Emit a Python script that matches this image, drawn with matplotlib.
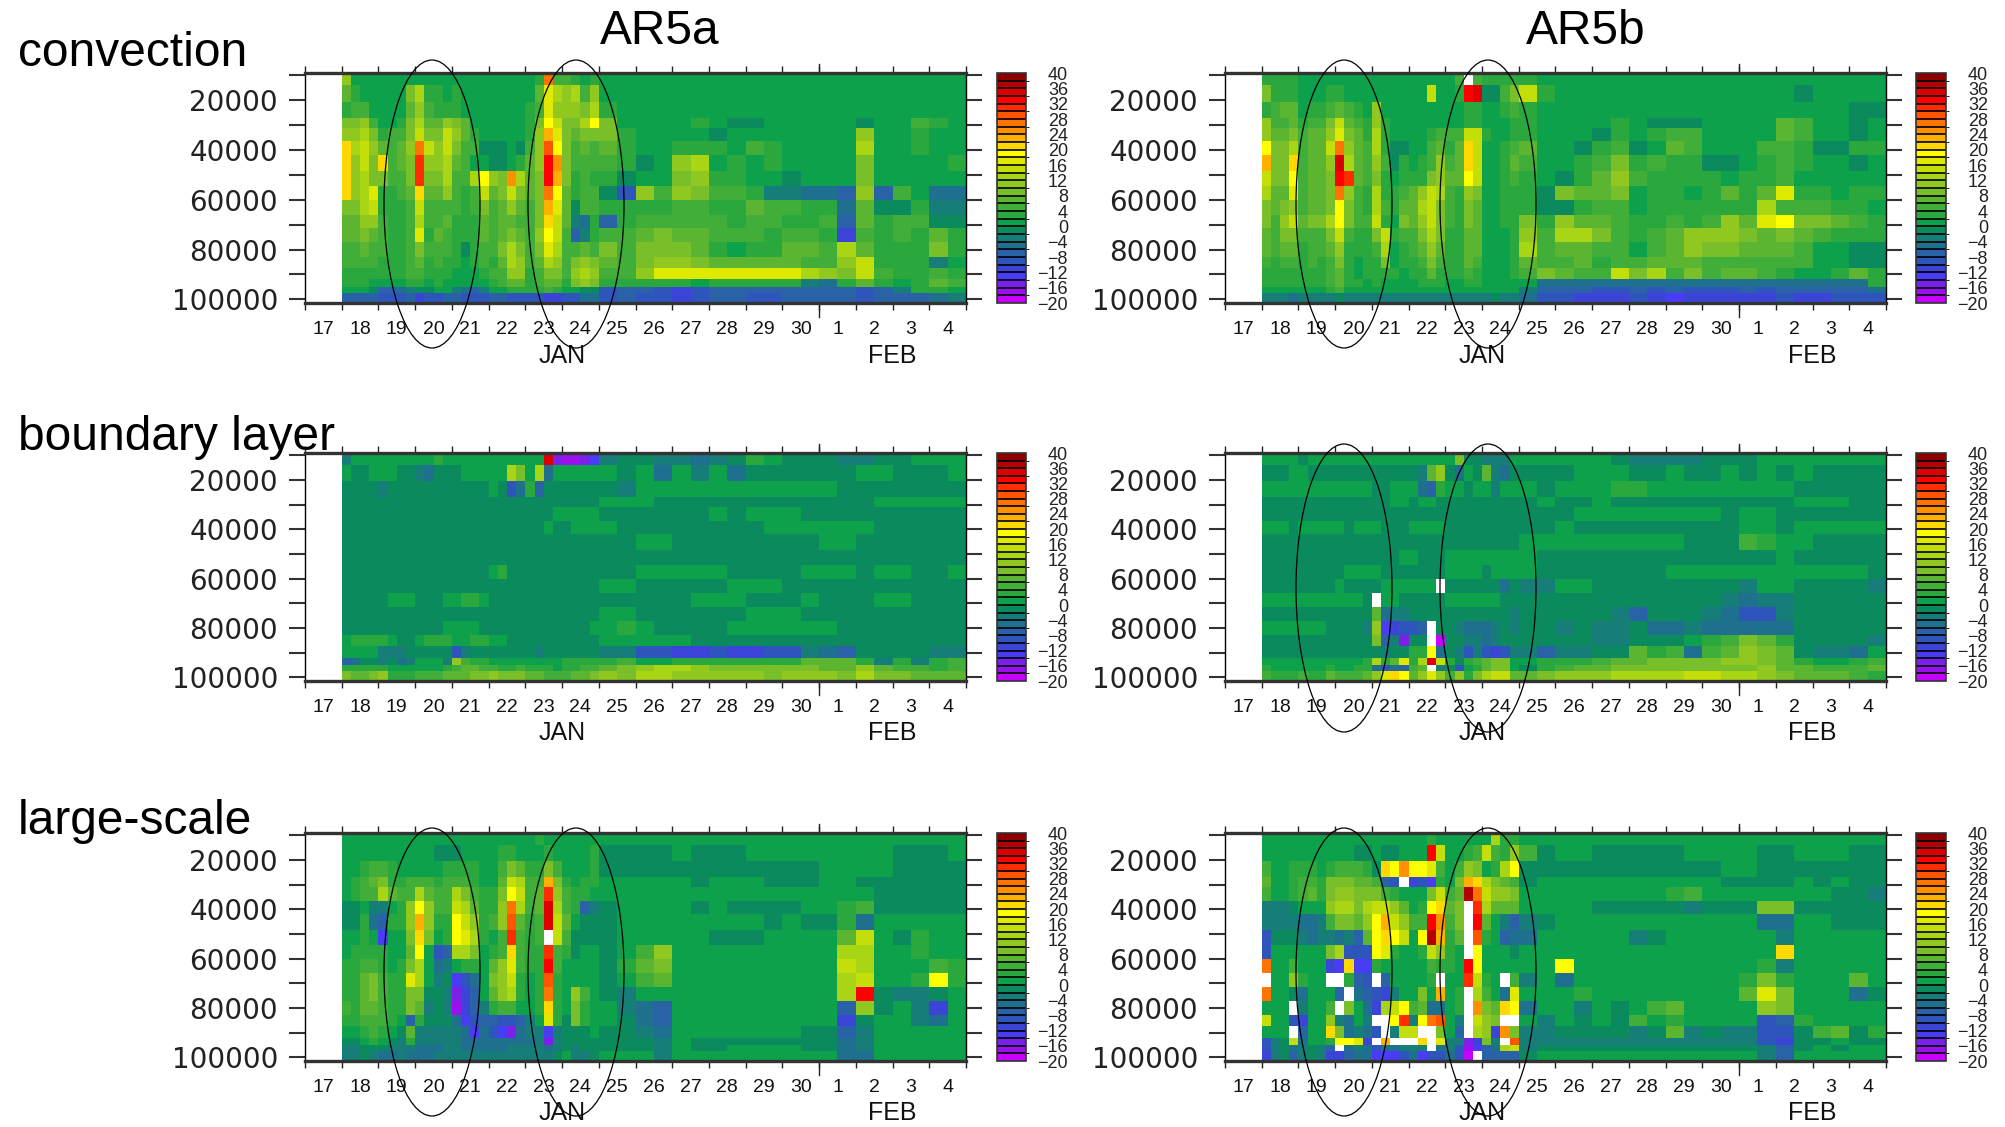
import numpy as np
import matplotlib
matplotlib.use('Agg')
import matplotlib.pyplot as plt
from matplotlib.colors import ListedColormap, BoundaryNorm
from matplotlib.colorbar import ColorbarBase
from matplotlib.patches import Ellipse
from matplotlib.ticker import MultipleLocator, FixedLocator, NullFormatter

W, H = 2006, 1127

# time edges in days after 17 Jan 00z: 6-hourly up to the 25th, then 12-hourly
time_edges = list(np.arange(1, 8, 0.25)) + list(np.arange(8, 18.5, 0.5))
# pressure edges of the 18 rows
level_edges = [9000, 13800, 20500, 27000, 31000, 36500, 42000, 48500, 54500, 60000,
               66000, 71500, 77000, 83000, 87500, 92000, 95000, 97500, 101500]

day_labels = ['17', '18', '19', '20', '21', '22', '23', '24', '25', '26', '27', '28',
              '29', '30', '1', '2', '3', '4']
box_levels = list(range(-20, 42, 2))
box_colors = ['#c800ff', '#9a10ee', '#7a20e8', '#4a3cf5', '#3c44d8', '#2e55bb', '#2a62a8',
              '#1f6f8f', '#177d78', '#0b8a5e', '#0ca14a', '#2aa83e', '#40ae38', '#5cb530',
              '#78bf2a', '#90c81f', '#a8d514', '#c4de0a', '#e0ea00', '#ffff00', '#ffd800',
              '#ffb000', '#ff9000', '#ff7400', '#ff5500', '#ff2c00', '#ff0000', '#dd0000',
              '#b50000', '#8b0000']

# each inner list is one time step, top of the atmosphere to the surface
conv_a = [
    [11,7,3,9,11,21,21,21,21,9,7,7,5,5,3,3,1,-7],
    [1,3,5,9,11,13,11,11,11,9,7,7,5,5,3,3,1,-7],
    [1,1,5,11,13,15,15,13,13,13,11,9,7,5,3,3,1,-7],
    [1,1,1,5,9,11,9,9,17,15,11,7,5,5,3,1,-1,-7],
    [1,1,1,1,3,7,21,9,3,3,5,5,5,3,3,1,-7,-9],
    [1,1,1,1,5,5,5,5,3,3,3,3,3,3,3,1,-7,-9],
    [1,1,1,3,5,7,7,5,5,3,3,3,3,3,3,1,-5,-9],
    [1,9,7,9,9,11,9,9,7,5,5,5,5,5,5,3,-3,-7],
    [1,13,11,13,15,27,31,31,21,15,13,17,9,7,5,3,-1,-11],
    [1,3,5,7,9,15,11,9,7,5,5,3,5,3,3,1,-1,-9],
    [1,3,3,7,9,11,11,9,7,5,5,7,5,5,3,3,1,-9],
    [1,1,3,11,15,15,13,13,11,5,7,5,5,3,3,1,1,-7],
    [1,3,3,9,11,9,7,5,5,5,3,3,3,3,1,1,-3,-7],
    [1,1,1,7,7,5,5,5,3,3,3,3,-1,1,1,1,-5,-9],
    [1,1,1,1,3,5,1,13,5,5,3,3,3,3,1,1,-7,-9],
    [1,1,1,1,1,-1,1,19,15,9,7,7,5,5,3,1,-3,-9],
    [1,1,1,1,1,-1,-1,11,7,5,5,5,5,3,5,3,1,-7],
    [1,1,1,1,1,-1,-1,9,9,7,7,7,9,7,5,5,1,-7],
    [1,1,1,1,1,1,1,25,15,11,7,9,13,13,11,7,3,-9],
    [1,1,1,1,1,-1,3,13,9,7,5,7,9,11,11,7,3,-9],
    [1,1,3,3,3,5,7,7,7,5,5,5,5,5,3,3,3,-9],
    [3,7,5,9,11,11,11,9,9,9,9,11,9,7,5,5,3,-9],
    [27,17,17,19,23,29,33,33,27,23,21,19,17,13,9,7,5,-11],
    [5,13,11,15,17,19,25,23,19,17,15,15,13,11,9,7,3,-11],
    [5,11,11,9,9,9,9,9,7,7,7,5,5,5,5,3,1,-9],
    [3,13,11,9,7,5,5,3,3,-1,-3,-7,5,9,11,9,1,-9],
    [1,5,9,13,9,7,5,5,5,5,-5,-3,7,11,13,11,-1,-5],
    [3,11,13,19,9,5,5,3,5,5,3,3,5,9,11,9,-1,-5],
    [1,1,3,9,9,7,5,3,-1,3,-7,5,9,7,5,3,-9,-9],
    [1,1,1,1,3,3,3,-1,-9,3,3,5,5,5,5,3,-7,-7],
    [1,1,1,1,1,1,-1,1,11,3,5,7,9,9,11,3,-7,-9],
    [1,1,1,1,1,1,1,1,5,3,5,9,9,11,17,3,-9,-9],
    [1,1,1,1,1,3,11,9,11,5,5,7,9,11,17,3,-11,-11],
    [1,1,1,3,1,3,13,11,9,5,5,7,7,9,17,1,-9,-9],
    [1,1,1,1,-1,3,1,3,5,3,5,5,3,7,17,3,-7,-7],
    [1,1,1,-1,1,1,3,3,5,3,3,5,1,7,17,3,-7,-7],
    [1,1,1,-1,1,5,1,1,3,7,5,5,3,7,17,3,-7,-9],
    [1,1,1,1,1,3,3,1,-3,5,5,3,3,7,17,3,-7,-9],
    [1,1,1,1,1,1,1,-1,-3,5,3,5,7,7,17,3,-7,-7],
    [1,1,1,1,1,1,1,1,-5,3,3,5,7,5,13,-3,-7,-7],
    [1,1,1,1,1,1,1,1,-5,3,5,3,5,5,11,-5,-7,-7],
    [1,1,1,1,1,1,1,1,-7,-5,-7,-11,13,11,9,3,-7,-7],
    [1,1,1,-1,11,13,9,9,11,7,7,5,7,15,15,7,-9,-9],
    [1,1,1,1,1,1,1,1,-7,-1,3,3,3,3,5,3,-7,-7],
    [1,1,1,1,1,1,1,1,5,-1,5,5,3,3,3,1,-3,-7],
    [1,1,1,5,3,3,1,1,1,3,5,3,3,3,3,3,3,-7],
    [1,1,1,3,1,1,1,1,-5,-3,-1,7,9,-3,5,7,3,-5],
    [1,1,1,1,1,1,3,1,-5,-3,-1,3,3,1,3,5,1,-3],
]

conv_b = [
    [3,9,3,11,11,19,23,15,13,9,9,7,7,5,3,3,1,-3],
    [3,3,5,5,7,9,9,9,7,7,5,5,5,3,3,3,1,-3],
    [3,3,7,5,7,9,9,9,7,9,11,9,7,5,3,3,1,-3],
    [3,3,7,7,9,13,21,19,17,11,15,9,7,5,3,3,1,-5],
    [1,1,1,3,5,5,5,5,5,5,7,5,3,3,3,3,1,-3],
    [1,1,3,5,7,7,7,7,7,7,9,5,5,5,3,3,1,-3],
    [1,1,3,5,7,7,7,7,7,7,9,5,5,3,3,3,1,-3],
    [1,3,5,9,11,15,11,9,9,9,13,9,7,5,5,5,3,-3],
    [1,3,7,15,17,27,35,33,27,19,19,15,11,9,7,7,5,-1],
    [1,1,5,7,9,11,13,31,11,9,9,5,3,3,3,3,1,-3],
    [1,1,3,5,7,7,7,7,5,5,5,3,3,1,1,3,1,-3],
    [1,1,1,3,3,5,5,5,3,3,5,3,3,3,3,1,1,-3],
    [1,1,11,11,13,13,11,9,13,13,15,9,5,3,3,3,1,-3],
    [1,1,1,3,3,3,5,3,3,5,3,15,13,9,3,1,1,-3],
    [1,1,1,1,1,-1,-1,1,3,3,1,3,1,1,3,1,1,-3],
    [1,1,1,1,1,-1,3,3,5,7,9,5,3,3,1,1,1,-3],
    [1,1,1,1,1,1,1,3,7,7,7,5,5,3,3,1,1,-3],
    [1,1,1,1,1,1,3,3,11,13,11,9,7,5,3,3,1,-3],
    [1,15,1,1,3,5,5,9,15,15,15,13,11,9,7,3,1,-3],
    [1,1,1,1,5,7,11,11,13,9,9,9,7,5,3,3,1,-3],
    [1,1,1,1,5,3,5,7,5,5,5,3,3,3,3,1,1,-3],
    [5,3,1,1,5,7,7,7,3,3,3,3,3,3,3,1,1,-3],
    [99,33,3,3,15,21,21,19,11,9,9,7,7,7,5,3,1,-3],
    [5,35,3,3,15,15,15,15,9,7,7,7,7,5,3,3,1,-3],
    [3,-1,1,1,3,1,1,1,1,1,1,1,1,1,1,1,1,-3],
    [3,-1,1,1,1,1,1,1,1,1,1,1,1,1,1,1,1,-1],
    [3,5,3,1,1,3,3,3,3,3,3,1,1,1,1,1,1,-3],
    [3,9,5,3,3,5,7,5,3,3,3,3,3,3,3,1,1,-3],
    [3,15,3,3,3,7,5,3,3,3,9,11,13,7,5,1,-3,-5],
    [1,3,1,1,1,1,1,1,-1,-1,3,5,5,5,9,-5,-7,-9],
    [1,1,1,1,1,1,1,-1,9,-1,11,13,7,5,7,-5,-7,-9],
    [1,1,1,1,1,-1,3,3,7,3,7,13,7,7,5,-5,-7,-11],
    [1,1,1,1,-1,3,5,7,7,5,7,9,5,3,5,-5,-9,-11],
    [1,1,1,3,3,5,9,11,9,5,5,5,5,5,15,-5,-9,-11],
    [1,1,1,1,1,-1,3,5,1,1,3,3,1,5,9,-5,-7,-9],
    [1,1,1,-1,3,1,5,3,3,3,3,5,5,7,13,-5,-9,-11],
    [1,1,1,-1,5,7,3,3,3,3,5,7,7,7,5,-5,-7,-13],
    [1,1,1,-1,5,5,3,3,1,3,3,11,11,7,9,-5,-9,-11],
    [1,1,1,1,1,1,-1,3,3,3,5,11,9,5,5,-5,-9,-11],
    [1,1,1,1,1,1,-1,1,7,3,11,11,9,5,7,-5,-9,-11],
    [1,1,1,1,1,1,1,3,3,3,7,9,7,5,7,-5,-7,-11],
    [1,1,1,1,1,5,3,3,7,13,17,7,7,5,5,-5,-9,-11],
    [1,1,1,7,7,5,5,5,17,5,19,9,7,5,3,-5,-7,-9],
    [1,-1,1,5,5,3,3,1,3,5,9,7,5,5,1,-5,-7,-11],
    [1,1,1,1,1,-1,1,1,3,5,9,5,1,1,1,-5,-7,-11],
    [1,1,1,1,1,-1,1,1,1,3,7,3,1,1,3,-5,-7,-9],
    [1,1,-1,-1,-1,3,-1,1,3,3,5,3,-1,-1,7,-5,-7,-9],
    [1,1,-1,1,1,3,1,1,3,1,3,3,-1,-1,3,3,-5,-9],
]

bl_a = [
    [-3,1,-1,-1,-1,-1,-1,-1,-1,-1,-1,-1,-1,1,1,-7,3,9],
    [1,-1,-1,-1,-1,-1,-1,-1,-1,-1,-1,-1,-1,3,1,-5,3,7],
    [1,-1,-1,-1,-1,-1,-1,-1,-1,-1,-1,-1,-1,3,1,-1,3,7],
    [1,1,-1,-1,-1,-1,-1,-1,-1,-1,-1,-1,-1,3,1,-1,3,9],
    [1,1,-3,-1,-1,-1,-1,-1,-1,-1,-1,-1,-1,3,-3,-3,3,11],
    [1,1,-1,-1,-1,-1,-1,-1,-1,-1,1,-1,-1,1,-3,-1,1,3],
    [1,-1,-1,-1,-1,-1,-1,-1,-1,-1,1,-1,-1,-1,-3,-5,1,3],
    [1,-1,-1,-1,-1,-1,-1,-1,-1,-1,1,-1,-1,-1,-1,-3,1,3],
    [1,-3,-1,-1,-1,-1,-1,-1,-1,-1,-1,-1,-1,1,-1,1,1,5],
    [1,-5,-1,-1,-1,-1,-1,-1,-1,-1,-1,-1,-1,3,-1,1,1,5],
    [3,-1,-1,-1,-1,-1,-1,-1,-1,-1,-1,-1,-1,3,-1,1,1,5],
    [1,-1,-1,-1,-1,-1,-1,-1,-1,-1,1,-1,1,3,-1,-3,3,7],
    [1,-1,-1,-1,-1,-1,-1,-1,-1,-1,1,-1,1,1,-9,11,5,7],
    [1,1,-1,-1,-1,-1,-1,-1,-1,-1,3,-1,1,1,-3,5,7,7],
    [1,1,-1,-1,-1,-1,-1,-1,-1,-1,3,-1,1,3,-1,3,7,9],
    [1,1,-1,-1,-1,-1,-1,-1,-1,-1,1,-1,-1,3,-1,3,5,9],
    [1,1,1,-1,-1,-1,-1,-1,1,-1,-1,-1,-1,1,-1,1,5,11],
    [1,1,-1,-1,-1,-1,-1,-1,3,-1,-1,-1,-1,1,-1,1,3,9],
    [1,13,-9,-1,-1,-1,-1,-1,-1,-1,-1,-1,-1,-1,-1,1,3,9],
    [1,9,-5,-1,-1,-1,-1,-1,-1,-1,-1,-1,-1,-1,-1,1,5,9],
    [1,1,3,-1,-1,-1,-1,-1,-1,-1,-1,-1,-1,-1,-1,1,3,7],
    [1,13,-7,-1,-1,-1,-1,-1,-1,-1,-1,-1,-1,-1,-3,1,3,7],
    [35,-5,-1,-1,-1,1,-1,-1,-1,-1,-1,-1,-1,-1,-1,1,3,5],
    [-15,1,-1,-1,1,-1,-1,-1,-1,-1,-1,-1,-1,-1,-1,1,1,5],
    [-17,1,-1,-1,1,-1,-1,-1,-1,-1,-1,-1,-1,-1,-1,3,3,5],
    [-17,1,-1,-1,1,1,-1,-1,-1,-1,-1,-1,-1,-1,-1,3,3,7],
    [-15,1,-1,-1,1,1,-1,-1,-1,-1,-1,-1,-1,-1,-1,3,5,7],
    [-13,1,-1,-1,1,1,-1,-1,-1,-1,-1,-1,1,-1,-1,3,5,9],
    [-3,1,-1,1,-1,1,-1,-1,-1,1,-1,1,1,1,-3,3,7,11],
    [-1,-1,-3,1,-1,-1,-1,-1,-1,1,-1,1,3,1,-3,5,9,9],
    [-1,1,1,1,-1,-1,1,-1,1,-1,-1,-1,1,1,-9,1,11,13],
    [-3,-5,1,-1,-1,-1,1,-1,1,-1,-1,-1,-1,1,-9,1,13,13],
    [-3,1,1,-1,-1,-1,-1,-1,1,-1,-1,-1,-1,1,-11,3,13,11],
    [-5,-3,1,-1,-1,-1,-1,-1,1,-1,1,-1,-1,-1,-11,3,11,11],
    [-3,1,1,-1,1,-1,-1,-1,1,-1,1,-1,-1,-1,-9,3,9,11],
    [-1,-5,1,-1,-1,-1,-1,-1,-1,1,1,-1,1,-1,-11,3,9,11],
    [3,-1,1,-1,1,-1,-1,-1,-1,1,-1,1,1,-1,-11,3,9,11],
    [1,-1,1,-1,1,1,-1,-1,-1,1,-1,1,1,-1,-9,3,9,9],
    [-1,-1,1,-1,1,1,-1,-1,-1,-1,-1,1,1,-1,-9,3,9,11],
    [-1,-1,1,-1,-1,1,-1,-1,1,-1,1,-1,1,-1,-3,7,9,11],
    [-1,-1,1,-1,-1,1,1,-1,1,-1,-1,-1,1,-1,-5,7,7,11],
    [-3,-1,-1,-1,-1,1,1,-1,1,-1,-1,-1,-1,-1,-7,7,7,9],
    [-3,1,-1,-1,-1,1,-1,-1,-1,-1,-1,-1,-1,-1,-1,3,11,13],
    [-1,1,-1,1,-1,-1,-1,-1,1,-1,1,-1,-1,-1,-1,-3,7,9],
    [-1,-1,-1,1,-1,-1,-1,-1,1,-1,1,-1,-1,-1,-1,3,5,9],
    [1,-1,-1,1,-1,-1,-1,-1,-1,-1,-1,-1,-1,-1,-1,-3,5,7],
    [1,-1,-1,1,-1,-1,-1,-1,-1,-1,-1,-1,-1,-1,-3,3,3,7],
    [1,1,-1,1,-1,-1,-1,-1,1,-1,-1,-1,-1,-1,-3,5,5,7],
]

bl_b = [
    [1,-1,1,-1,-1,1,-1,-1,-1,-1,1,-1,1,-1,-1,1,3,5],
    [1,-1,1,-1,-1,1,-1,-1,-1,-1,1,-1,1,-1,-1,1,1,3],
    [1,-1,1,-1,-1,1,-1,-1,-1,-1,1,-1,1,-1,-1,1,1,3],
    [1,1,1,-1,-1,-1,-1,-1,-1,-1,1,-1,1,-1,-1,1,1,3],
    [-1,1,1,-1,-1,1,-1,-1,-1,-1,1,-1,1,-1,-1,1,1,5],
    [1,-1,1,-1,-1,1,-1,-1,-1,-1,1,-1,1,-1,-1,1,1,3],
    [1,-1,1,-1,-1,1,-1,-1,-1,-1,1,-1,1,-1,-1,1,1,3],
    [1,-1,1,-1,-1,1,-1,-1,-1,-1,1,-1,-1,-1,-1,1,3,7],
    [1,-1,1,-1,-1,1,-1,-1,-1,1,1,-1,-1,-1,-1,1,1,5],
    [1,-1,1,-1,-1,-1,-1,-1,1,-1,1,-1,-1,-1,-1,1,1,5],
    [1,-1,1,-1,-1,1,-1,-1,1,-1,1,-1,-1,-1,-1,1,3,5],
    [1,-1,1,-1,-1,1,-1,-1,1,-1,-1,-1,-3,-1,-1,3,3,7],
    [1,-1,-1,-1,-1,1,-1,-1,1,-1,99,7,11,9,-1,13,-5,11],
    [1,-1,-1,-1,-1,-1,-1,-1,-1,1,1,-5,-13,-7,-3,3,-9,17],
    [1,-1,1,1,-1,-1,-1,-1,-1,1,1,-3,-11,-3,-1,7,-5,21],
    [1,-1,1,1,-1,-1,-1,1,-1,1,-1,-3,-9,-15,-1,17,-7,19],
    [1,-1,1,-1,-1,1,-1,1,-1,1,-1,-1,-9,-1,3,3,5,7],
    [1,-3,-5,1,-1,1,-1,-1,-1,1,-1,-1,-7,-1,3,13,7,11],
    [1,7,-7,1,-1,1,-1,-1,-1,1,-1,-1,99,99,19,35,99,17],
    [1,11,3,-1,-1,1,-1,-1,-1,99,-1,-1,-1,-19,-5,15,-3,11],
    [1,-1,1,-1,-1,-1,-1,1,1,-1,1,-1,-1,-1,-1,3,-1,5],
    [9,-5,1,-1,-1,-1,-1,1,1,-1,1,-1,-3,-1,-3,-1,-9,11],
    [-1,1,-1,-1,-1,-1,-1,1,1,-1,1,-1,-5,-3,-9,3,1,3],
    [-1,-1,1,-1,-1,-1,-1,1,1,-1,1,-1,-5,-3,-3,5,3,9],
    [-3,7,1,-1,-1,-1,-1,1,-1,-1,1,-1,-5,-5,-9,7,7,13],
    [-3,-3,-3,-1,-1,-1,-1,1,1,-1,1,-1,-3,-3,-11,9,9,15],
    [-3,-5,1,-1,-1,-1,-1,1,1,-5,-1,-1,-1,-1,-9,9,9,15],
    [1,-1,1,-1,-1,-1,-1,1,1,-1,-1,-3,-3,-1,-3,1,1,7],
    [1,-1,1,-1,-1,-1,1,1,1,-3,-1,-1,-1,-1,-3,1,-1,7],
    [1,-1,-1,1,-1,-1,1,-1,-1,-3,-1,-1,-1,-1,-7,3,3,9],
    [1,-1,1,-1,-1,1,1,-1,-1,1,-1,-1,-3,-1,-3,3,5,11],
    [1,1,1,-1,1,-1,1,-1,-1,1,-1,-1,-1,-1,-3,3,7,11],
    [1,1,1,1,1,-1,1,-1,-1,-1,-1,-1,-3,-3,-1,5,7,11],
    [-1,1,3,-1,1,-1,1,-1,-1,-1,-1,-3,-3,-3,-1,7,9,13],
    [-3,-1,3,-1,1,-1,1,-1,-1,-1,-1,-7,-1,-1,7,7,9,13],
    [-3,-1,1,-1,1,-1,1,-1,-1,-1,-1,-1,-5,-1,3,9,9,13],
    [-3,1,1,-1,1,-1,1,-1,1,-1,-1,-1,-5,-1,5,9,9,13],
    [-3,-1,1,-1,1,-1,-1,-1,1,-1,-1,-1,-3,1,-5,9,9,15],
    [-1,-1,1,-1,1,-1,-1,-1,1,-1,-1,-3,-5,3,5,9,9,15],
    [-1,1,1,-1,-1,-1,-1,-1,1,-1,-3,-5,-5,5,7,11,9,13],
    [-1,-1,1,-1,1,1,5,-1,1,-3,-5,-9,-5,9,11,11,9,13],
    [1,1,1,-1,1,1,3,-1,1,1,-3,-9,-5,7,9,9,11,11],
    [1,-1,1,-1,-1,-1,1,1,1,1,-3,-3,-5,3,7,7,7,9],
    [1,1,-1,1,-1,1,1,-1,1,-1,-1,-1,-1,-1,-1,3,7,7],
    [1,-1,-1,1,-1,1,-1,-1,1,-1,-1,-1,-1,-1,-3,1,5,7],
    [1,-1,-1,1,-1,1,-1,-1,1,-1,-1,-1,-1,-1,-3,1,5,7],
    [1,-1,-1,-1,-1,1,-1,-1,1,-1,-1,-1,-1,-1,-5,3,5,5],
    [1,-1,-1,-1,-1,1,-1,-1,-1,-3,-1,-1,-1,-3,1,5,7,3],
]

ls_a = [
    [1,1,1,1,1,-1,-1,1,1,3,3,3,5,3,1,-1,-3,-3],
    [1,1,1,3,3,-1,-1,1,3,3,3,3,3,3,1,-1,-3,-3],
    [1,1,3,5,5,1,3,3,3,5,7,7,7,5,3,1,-1,-1],
    [1,1,5,7,5,-3,-5,1,3,5,9,9,7,5,5,3,-1,-3],
    [1,1,5,9,13,-3,-7,-13,3,3,5,5,5,5,3,1,-1,-5],
    [1,1,3,3,7,1,3,1,1,1,3,3,3,3,1,-1,-3,-5],
    [1,1,1,3,5,3,3,1,1,3,3,3,3,1,-1,-3,-3,-3],
    [1,1,1,5,5,11,11,9,7,9,17,9,9,-7,7,3,-3,-5],
    [1,1,1,5,13,19,23,21,19,13,13,9,7,3,-3,-3,-5,-5],
    [1,1,1,5,7,11,11,9,1,1,1,-1,-3,-1,-3,-3,-5,-5],
    [1,-1,1,3,5,5,3,1,-9,-5,-3,-1,-1,-1,-3,-3,-5,-3],
    [1,-1,3,5,5,5,3,3,-7,-3,-1,-3,-3,-1,-3,-3,-3,-3],
    [1,-1,3,5,13,15,19,19,13,1,-13,-15,-17,-5,-3,-3,-3,-3],
    [1,1,3,5,9,13,15,17,13,3,-9,-11,-11,-13,-5,-5,-5,-3],
    [1,1,3,3,5,7,11,13,9,3,-5,-7,-7,-9,-13,-5,-5,-3],
    [1,1,1,1,3,3,3,3,1,1,1,1,-3,-7,-5,-5,-5,-3],
    [1,1,1,1,3,3,5,1,3,7,9,7,3,-7,-9,-5,-5,-3],
    [1,3,5,7,9,11,11,5,5,11,11,11,5,-9,-13,-5,-5,-3],
    [1,3,9,15,19,27,29,31,21,17,15,13,5,-9,-15,-5,-3,-3],
    [1,1,7,13,15,13,7,5,5,5,3,3,1,-7,-5,-5,-3,-3],
    [1,1,3,5,5,5,3,3,3,3,1,1,1,-3,-3,-5,-3,-3],
    [3,1,3,5,7,7,5,5,3,3,3,3,3,1,-3,-3,-3,-3],
    [1,3,9,23,31,35,35,99,31,33,29,27,21,17,-13,-15,-5,-3],
    [1,1,5,9,11,13,15,15,5,5,3,3,3,3,-3,-3,-3,-1],
    [1,1,1,3,5,5,7,5,3,1,1,1,1,-1,-1,-1,-1,1],
    [1,1,1,1,3,3,1,-1,-1,1,1,11,9,9,-1,-1,-3,-3],
    [1,1,1,3,3,-7,-1,-1,1,1,1,5,3,3,-1,-1,-1,-3],
    [1,3,3,3,1,-3,-1,-1,1,1,1,1,1,1,1,-1,-1,-1],
    [1,-1,-1,1,1,-1,-1,-1,-1,-1,-1,-1,1,1,-1,-1,-1,1],
    [1,-1,-1,1,1,1,1,1,1,3,1,-3,-3,-1,-1,-1,-1,1],
    [1,-1,-1,1,1,1,1,1,5,7,5,1,-5,-5,-3,-1,-1,1],
    [1,-1,-1,1,1,1,1,1,11,9,7,1,-7,-7,-5,-3,-3,-3],
    [1,1,-1,1,1,1,1,1,1,1,1,1,1,1,1,1,1,1],
    [1,-1,-1,-1,1,-1,1,1,1,1,1,1,1,1,1,-1,-1,1],
    [1,-1,-1,1,1,1,1,-1,1,1,1,1,1,1,1,-1,-1,1],
    [1,-1,-1,1,1,-1,1,-1,1,1,1,1,1,1,1,-1,1,1],
    [1,1,-1,1,1,-1,1,-1,1,1,1,1,1,1,1,-1,1,1],
    [1,1,-1,-1,1,-1,-1,1,1,1,1,1,1,1,1,-1,1,1],
    [1,1,-1,-1,1,-1,1,1,1,1,1,1,1,1,1,-1,1,1],
    [1,1,-1,-1,1,1,-1,1,1,1,1,1,1,1,-1,-1,-1,1],
    [1,1,1,1,1,1,-1,1,1,1,1,1,1,1,-1,-1,-1,1],
    [1,1,1,1,1,3,3,7,13,15,13,13,-7,-11,-7,-5,-5,-5],
    [1,1,1,-1,1,5,-5,15,13,13,15,33,11,-1,-3,-3,-3,-5],
    [1,1,1,-1,-1,-1,1,1,1,1,1,-1,-1,1,1,1,1,1],
    [1,-1,-1,-1,-1,-1,1,-1,1,1,1,-3,1,1,1,1,1,1],
    [1,-1,-1,-1,-1,-1,1,3,3,1,3,-3,-3,-3,1,1,1,1],
    [1,-1,-1,-1,-1,-1,1,1,1,5,19,-1,-11,-5,1,1,1,1],
    [1,1,-1,-1,-1,-1,1,1,1,3,3,1,1,1,1,1,1,1],
]

ls_b = [
    [1,1,5,7,5,-3,-3,-9,-9,27,99,27,1,15,1,-9,-9,-11],
    [1,1,1,1,1,-3,-3,-1,1,1,1,1,1,1,1,-3,-3,-3],
    [1,1,1,1,1,-3,-3,-1,1,1,1,1,1,1,1,-1,-1,-1],
    [1,1,3,3,3,-1,-3,-1,1,5,11,-1,99,-9,99,15,-5,-7],
    [1,1,3,5,5,1,-5,-3,1,1,3,-5,-3,-11,-7,-5,-3,-3],
    [1,1,3,5,7,1,-5,-5,1,1,1,1,1,1,1,1,-1,-1],
    [1,1,1,3,3,1,-3,-3,1,1,1,1,1,1,1,1,-3,-3],
    [1,1,3,9,9,11,5,-3,9,-11,99,1,5,11,21,3,-7,-11],
    [1,1,5,9,11,13,9,-5,13,-13,99,-7,99,-3,9,19,99,-11],
    [1,1,5,9,11,13,9,-3,-9,21,3,99,9,-5,-5,19,-5,-7],
    [1,-1,5,7,9,9,7,-7,-9,-13,-7,-5,1,1,-3,17,-3,-5],
    [1,-1,3,7,9,13,11,7,-9,-13,-9,-7,-5,-3,-5,-11,-5,-5],
    [1,1,-1,5,9,15,19,19,19,3,99,-9,-11,99,-9,99,-9,-13],
    [1,-1,21,-7,5,15,23,21,17,1,-7,-11,13,99,99,23,-5,-13],
    [1,-1,19,-9,3,11,15,19,3,1,1,-3,15,19,-3,99,-5,-13],
    [1,1,25,99,1,7,11,15,1,1,1,1,19,31,15,99,-3,-9],
    [1,1,19,-11,1,1,5,1,1,1,1,1,5,-3,15,99,-3,-5],
    [1,1,19,-9,1,3,5,19,3,1,1,9,7,19,99,21,-3,-13],
    [3,33,17,-13,9,19,33,37,15,5,3,1,-5,27,99,99,99,-9],
    [1,15,5,3,15,21,25,23,11,3,99,23,-5,29,9,17,-5,-9],
    [1,1,1,1,5,7,5,3,3,3,1,1,1,1,1,-3,-3,-5],
    [1,1,5,9,7,9,9,7,1,1,1,3,3,-3,-7,-3,-9,-9],
    [1,3,11,23,37,99,99,99,99,33,31,99,99,99,99,-15,-17,-19],
    [1,5,9,21,27,31,33,29,19,19,15,13,25,15,13,-11,-13,-99],
    [1,15,1,13,15,13,7,3,1,1,3,5,9,11,11,9,-7,-7],
    [13,5,3,9,11,7,1,1,1,1,1,1,7,9,-11,-3,-5,-7],
    [3,3,13,7,11,7,-3,-7,1,1,99,-5,21,99,25,99,13,-7],
    [3,11,19,5,9,7,-7,-5,-1,1,5,17,19,99,9,29,15,-7],
    [1,5,-1,-1,1,1,-3,-5,1,1,-3,1,-5,1,-3,-3,-3,-1],
    [1,-1,-1,1,1,1,-1,1,1,1,1,1,1,-3,-3,-3,-1,1],
    [1,1,-1,1,1,1,1,1,1,19,-5,1,1,1,-1,-3,-1,1],
    [1,1,-1,1,1,1,1,1,1,1,1,3,-3,-1,-1,-3,-1,1],
    [1,-1,-1,1,1,-1,1,1,1,1,1,1,1,1,-1,-3,-1,1],
    [1,-1,-1,1,1,-1,1,1,1,1,1,1,-1,-1,-1,-3,-1,1],
    [1,-1,-1,1,1,-1,1,-3,1,1,1,1,1,5,-3,-3,-1,1],
    [1,-1,-1,1,1,-1,1,-1,1,1,1,1,5,1,-1,-3,-1,1],
    [1,-1,-1,1,3,-1,1,1,1,1,1,1,7,3,7,-3,-1,1],
    [1,1,-1,1,5,-3,1,1,1,1,1,1,1,1,-3,-3,-1,1],
    [1,1,-1,1,1,-1,1,1,1,1,1,1,1,1,-1,-3,-1,1],
    [1,1,1,-1,1,-1,1,1,1,1,1,1,1,1,-3,-3,-1,1],
    [1,1,1,-1,1,-1,1,1,1,1,3,7,1,1,-3,-3,-1,1],
    [1,-1,-1,-1,1,9,-5,1,1,3,9,17,11,-9,-9,-9,-3,-3],
    [1,-1,-1,-1,1,9,-5,-3,21,-3,3,9,9,-7,-9,-11,-7,-7],
    [1,1,-1,1,1,-1,1,1,1,1,1,1,1,3,-1,-1,-1,1],
    [1,1,-1,-1,1,-1,1,1,1,1,1,1,1,1,5,-1,1,1],
    [1,1,-1,1,-1,-1,-1,1,1,1,1,1,1,1,7,1,-1,1],
    [1,-1,-1,-1,-1,-1,-1,1,1,1,7,-5,1,1,-1,-1,1,1],
    [1,-1,-1,-1,-3,-1,-1,1,1,1,1,-1,1,1,3,-1,1,1],
]

plt.rcParams['font.family'] = ['Liberation Sans', 'DejaVu Sans']

cmap = ListedColormap(box_colors)
cmap.set_over('white')
cmap.set_under('white')
norm = BoundaryNorm(box_levels, cmap.N)

fig = plt.figure(figsize=(W / 100, H / 100), dpi=100)


def px_axes(x0, y0, x1, y1):
    return fig.add_axes([x0 / W, 1 - y1 / H, (x1 - x0) / W, (y1 - y0) / H])


def draw_panel(x0, y0, x1, y1, data, cb_x0, cb_x1):
    ax = px_axes(x0, y0, x1, y1)
    ax.pcolormesh(time_edges, level_edges, np.array(data).T, cmap=cmap, norm=norm)
    ax.set_xlim(0, 18)
    ax.set_ylim(101500, 9000)

    ax.spines['top'].set_linewidth(2.4)
    ax.spines['bottom'].set_linewidth(2.4)
    ax.spines['top'].set_color('#333333')
    ax.spines['bottom'].set_color('#333333')
    ax.spines['left'].set_linewidth(1)
    ax.spines['right'].set_linewidth(1)

    # days: ticks on the day edges, labels in the middle of each day
    ax.xaxis.set_major_locator(FixedLocator(np.arange(0, 19)))
    ax.xaxis.set_major_formatter(NullFormatter())
    ax.xaxis.set_minor_locator(FixedLocator(np.arange(18) + 0.5))
    ax.set_xticklabels(day_labels, minor=True, fontsize=14, color='#111111')
    ax.tick_params(axis='x', which='major', direction='out', length=5, width=1, top=True,
                   color='#222222')
    ax.tick_params(axis='x', which='minor', length=0, pad=13)

    ax.yaxis.set_major_locator(MultipleLocator(20000))
    ax.yaxis.set_minor_locator(MultipleLocator(10000))
    ax.tick_params(axis='y', which='both', direction='out', length=11.5, width=1.5, right=True,
                   color='#333333')
    ax.tick_params(axis='y', which='major', pad=8, labelsize=20, labelcolor='#222222')
    for lab in ax.get_yticklabels():
        lab.set_family('DejaVu Sans')

    # the longer tick at the month change, outside the frame only
    tr = ax.get_xaxis_transform()
    ax.plot([14, 14], [-0.06, 0], color='#222222', lw=1, transform=tr, clip_on=False)
    ax.plot([14, 14], [1, 1.04], color='#222222', lw=1, transform=tr, clip_on=False)
    ax.text(7, -0.23, 'JAN', transform=tr, fontsize=18, ha='center', va='center', color='#111111')
    ax.text(16, -0.23, 'FEB', transform=tr, fontsize=18, ha='center', va='center', color='#111111')

    cax = px_axes(cb_x0, y0, cb_x1, y1)
    cb = ColorbarBase(cax, cmap=cmap, norm=norm, ticks=box_levels[::2], drawedges=True, spacing='uniform')
    cb.dividers.set_color('black')
    cb.dividers.set_linewidth(1.2)
    cb.outline.set_linewidth(1.2)
    cb.outline.set_edgecolor('#333333')
    cax.tick_params(length=0, pad=42 / 100 * 72, labelsize=13, labelcolor='#222222')
    for lab in cax.get_yticklabels():
        lab.set_horizontalalignment('right')
    return ax


draw_panel(305, 73, 966, 303, conv_a, 997, 1026)
draw_panel(1225, 73, 1886, 303, conv_b, 1916, 1946)
draw_panel(305, 453, 966, 681, bl_a, 997, 1026)
draw_panel(1225, 453, 1886, 681, bl_b, 1916, 1946)
draw_panel(305, 833, 966, 1061, ls_a, 997, 1026)
draw_panel(1225, 833, 1886, 1061, ls_b, 1916, 1946)

# overlay in picture pixels for the hand-drawn ellipses and the big labels
over = fig.add_axes([0, 0, 1, 1], facecolor='none')
over.set_xlim(0, W)
over.set_ylim(H, 0)
over.axis('off')

ellipses = [(432, 204), (576, 204), (1344, 204), (1488, 204),
            (1344, 588), (1488, 588),
            (432, 972), (576, 972), (1344, 972), (1488, 972)]
for cx, cy in ellipses:
    over.add_patch(Ellipse((cx, cy), 96, 288, fill=False, edgecolor='black', lw=0.9))

over.text(660, 44, 'AR5a', fontsize=34.5, ha='center', va='baseline')
over.text(1586, 44, 'AR5b', fontsize=34.5, ha='center', va='baseline')
over.text(18, 66, 'convection', fontsize=34.5, ha='left', va='baseline')
over.text(18, 450, 'boundary layer', fontsize=34.5, ha='left', va='baseline')
over.text(18, 834, 'large-scale', fontsize=34.5, ha='left', va='baseline')

fig.savefig('out.png', dpi=100)
